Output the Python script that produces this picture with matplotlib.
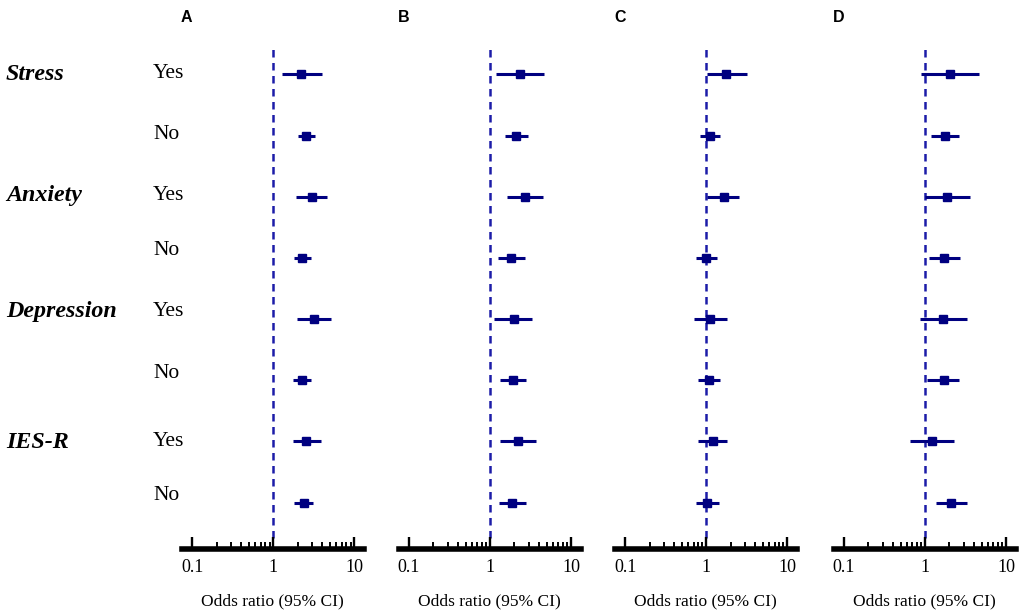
import matplotlib
matplotlib.use("Agg")
import matplotlib.pyplot as plt
from matplotlib.ticker import FixedLocator, NullFormatter

# ---------------- data ----------------
panels = ["A", "B", "C", "D"]
groups = ["Stress", "Anxiety", "Depression", "IES-R"]
levels = ["Yes", "No"]

or_A = [2.20, 2.56, 3.00, 2.28, 3.18, 2.28, 2.56, 2.37]
lo_A = [1.27, 2.04, 1.91, 1.79, 1.98, 1.77, 1.73, 1.82]
hi_A = [3.96, 3.24, 4.60, 2.94, 5.20, 2.92, 3.88, 3.12]

or_B = [2.37, 2.11, 2.73, 1.83, 1.96, 1.94, 2.24, 1.89]
lo_B = [1.19, 1.53, 1.61, 1.24, 1.13, 1.34, 1.32, 1.28]
hi_B = [4.64, 2.92, 4.47, 2.73, 3.27, 2.81, 3.66, 2.81]

or_C = [1.78, 1.10, 1.64, 1.00, 1.13, 1.08, 1.20, 1.03]
lo_C = [1.02, 0.84, 1.02, 0.75, 0.71, 0.80, 0.79, 0.75]
hi_C = [3.15, 1.46, 2.55, 1.37, 1.82, 1.46, 1.82, 1.42]

or_D = [2.02, 1.78, 1.87, 1.73, 1.68, 1.70, 1.23, 2.11]
lo_D = [0.88, 1.17, 1.00, 1.12, 0.87, 1.07, 0.65, 1.36]
hi_D = [4.69, 2.65, 3.56, 2.73, 3.30, 2.63, 2.30, 3.33]

major_ticks = [0.1, 1, 10]
major_labels = ["0.1", "1", "10"]
minor_ticks = [0.2, 0.3, 0.4, 0.5, 0.6, 0.7, 0.8, 0.9,
               2, 3, 4, 5, 6, 7, 8, 9]
xlabel = "Odds ratio (95% CI)"

# ---------------- layout ----------------
W, H = 1021, 616
fig = plt.figure(figsize=(W / 100, H / 100), dpi=100)

SERIF = ["Liberation Serif", "DejaVu Serif"]
SANS = ["Liberation Sans", "DejaVu Sans"]
MARK = "#000080"
DASH = "#1c1ca8"

ax_lefts = [181.8, 398.5, 614.7, 833.5]
ax_w = 182.0
ax_top, ax_bot = 47.0, 549.0

all_or = [or_A, or_B, or_C, or_D]
all_lo = [lo_A, lo_B, lo_C, lo_D]
all_hi = [hi_A, hi_B, hi_C, hi_D]

rows = list(range(1, 2 * len(groups) + 1))

for k, name in enumerate(panels):
    left = ax_lefts[k]
    ax = fig.add_axes([left / W, (H - ax_bot) / H, ax_w / W, (ax_bot - ax_top) / H])
    ax.set_xscale("log")
    ax.set_xlim(10 ** (-1 - 10.5 / 81), 10 ** (1 + 9.5 / 81))
    ax.set_ylim(8.757, 0.553)
    ax.patch.set_alpha(0)

    ax.axvline(1, ymin=0.022, ymax=1, color=DASH, lw=1.8, ls=(0, (3, 2.2)), zorder=1)
    ax.hlines(rows, all_lo[k], all_hi[k], color=MARK, lw=2.2, zorder=2)
    ax.plot(all_or[k], rows, "s", color=MARK, ms=5.5, zorder=3)

    for s in ["left", "top", "right"]:
        ax.spines[s].set_visible(False)
    ax.spines["bottom"].set_linewidth(4.0)
    ax.spines["bottom"].set_color("black")
    ax.set_yticks([])
    ax.xaxis.set_major_locator(FixedLocator(major_ticks))
    ax.xaxis.set_minor_locator(FixedLocator(minor_ticks))
    ax.xaxis.set_minor_formatter(NullFormatter())
    ax.set_xticklabels(major_labels, fontfamily=SERIF, fontsize=13)
    ax.tick_params(axis="x", which="major", direction="in", length=9, width=1.7,
                   pad=7, color="black")
    ax.tick_params(axis="x", which="minor", direction="in", length=5, width=1.4,
                   color="black")
    ax.set_xlabel(xlabel, fontfamily=SERIF, fontsize=12.5, labelpad=13)

    fig.text((left + 5) / W, 1 - 18 / H, name, fontfamily=SANS, fontweight="bold",
             fontsize=11.5, ha="center", va="center")

# row labels
group_y = [74, 196, 311, 442]
yes_y = [74, 196, 311, 442]
no_y = [135, 250, 374, 496]
for g, gy, yy, ny in zip(groups, group_y, yes_y, no_y):
    fig.text(6 / W, 1 - gy / H, g, fontfamily=SERIF, fontweight="bold",
             fontstyle="italic", fontsize=17.3, ha="left", va="center")
    fig.text(153 / W, 1 - yy / H, levels[0], fontfamily=SERIF, fontsize=15.5,
             ha="left", va="center")
    fig.text(153 / W, 1 - ny / H, levels[1], fontfamily=SERIF, fontsize=15.5,
             ha="left", va="center")

fig.savefig("out.png", dpi=100, facecolor="white")
